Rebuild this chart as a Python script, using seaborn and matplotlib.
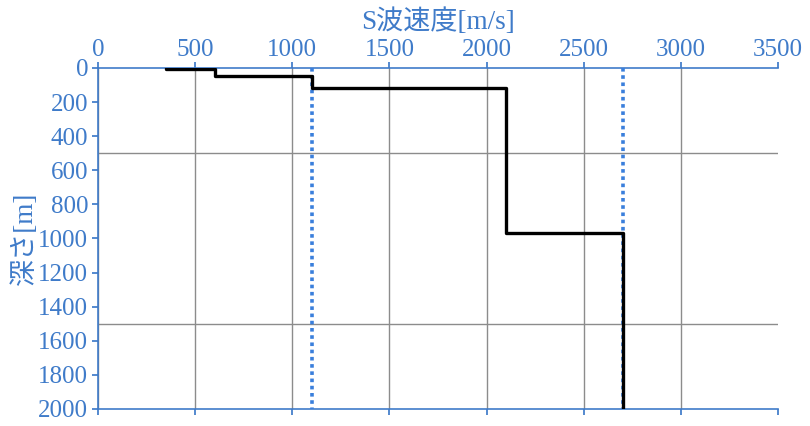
import matplotlib
matplotlib.use("Agg")
import matplotlib.pyplot as plt
import seaborn as sns
import pandas as pd
from matplotlib.ticker import MultipleLocator

# ── Data ───────────────────────────────
vs_step    = [350, 350, 600, 600, 1100, 1100, 2100, 2100, 2700, 2700]
depth_step = [0, 8, 8, 50, 50, 115, 115, 970, 970, 2000]
ref_vs     = [1100, 2700]

TEXT_BLUE = "#3f7bc9"
LINE_BLUE = "#3a7fdc"

sns.set_theme(style="white")
plt.rcParams["font.family"] = ["Liberation Serif", "Noto Sans CJK JP"]

fig = plt.figure(figsize=(8.1, 4.26), dpi=100)
ax = fig.add_axes([0.121, 0.040, 0.8395, 0.8005])

df = pd.DataFrame({"vs": vs_step, "depth": depth_step})

# reference velocities (dotted blue)
ax.vlines(ref_vs, 0, 2000, colors=LINE_BLUE, linestyles=(0, (1, 1)),
          linewidth=2.6, zorder=3)

# step profile
sns.lineplot(data=df, x="vs", y="depth", sort=False, estimator=None,
             color="black", linewidth=2.4, ax=ax, zorder=4)

ax.set_xlim(0, 3500)
ax.set_ylim(2000, 0)

ax.xaxis.set_major_locator(MultipleLocator(500))
ax.yaxis.set_major_locator(MultipleLocator(200))
ax.yaxis.set_minor_locator(MultipleLocator(500))

ax.xaxis.tick_top()
ax.xaxis.set_label_position("top")
ax.tick_params(axis="x", which="major", top=True, bottom=True,
               labeltop=True, labelbottom=False, direction="out",
               length=4, color=TEXT_BLUE, labelcolor=TEXT_BLUE,
               labelsize=18, pad=1)
ax.tick_params(axis="y", which="major", left=True, direction="out",
               length=4, color=TEXT_BLUE, labelcolor=TEXT_BLUE,
               labelsize=18, pad=3)
ax.tick_params(axis="y", which="minor", length=0)

ax.grid(False)
ax.grid(True, axis="x", which="major", color="#8c8c8c", linewidth=1)
ax.grid(True, axis="y", which="minor", color="#8c8c8c", linewidth=1)

for side in ["top", "left", "bottom"]:
    ax.spines[side].set_color(TEXT_BLUE)
    ax.spines[side].set_linewidth(1.2)
ax.spines["right"].set_visible(False)

ax.set_xlabel("S波速度[m/s]", color=TEXT_BLUE, fontsize=19.5, labelpad=7)
ax.set_ylabel("深さ[m]", color=TEXT_BLUE, fontsize=19.5, labelpad=0)

# no gridline on the right edge
fig.canvas.draw()
for tick in ax.xaxis.get_major_ticks():
    if abs(tick.get_loc() - 3500) < 1:
        tick.gridline.set_visible(False)

fig.savefig("out.png", dpi=100)
